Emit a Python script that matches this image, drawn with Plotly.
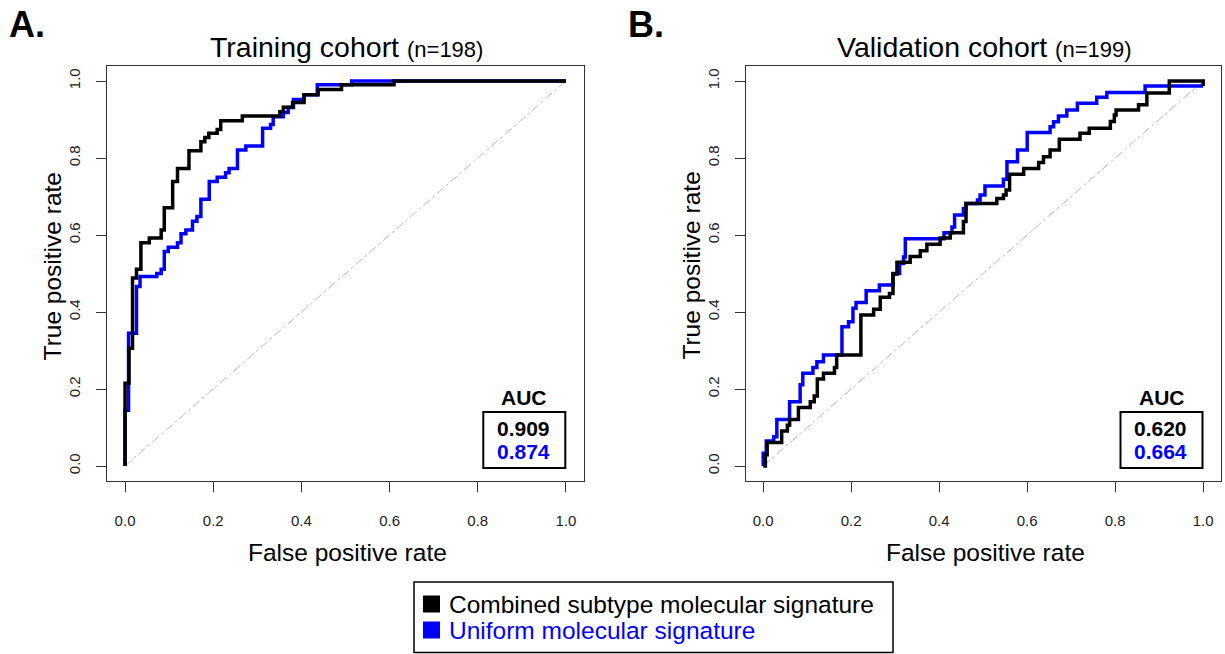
import plotly.graph_objects as go

W, H = 1225, 654
FONT = "Liberation Sans, Arial, Helvetica, sans-serif"
BLACK = "#000000"
BLUE = "#0000ff"

# ROC step knots (false positive rate, true positive rate); drawn with vertical-then-horizontal steps
train_comb_fpr = [0, 0.009, 0.017, 0.026, 0.036, 0.055, 0.082, 0.089, 0.108, 0.119, 0.145, 0.172, 0.181,
                  0.190, 0.209, 0.217, 0.266, 0.351, 0.359, 0.380, 0.406, 0.438, 0.491, 0.610, 1.0]
train_comb_tpr = [0, 0.215, 0.306, 0.488, 0.511, 0.580, 0.592, 0.613, 0.671, 0.739, 0.773, 0.819, 0.842,
                  0.853, 0.864, 0.874, 0.897, 0.909, 0.920, 0.932, 0.944, 0.964, 0.978, 0.990, 1.0]

train_unif_fpr = [0, 0.008, 0.026, 0.034, 0.072, 0.082, 0.089, 0.098, 0.119, 0.127, 0.138, 0.153, 0.163,
                  0.172, 0.191, 0.209, 0.228, 0.236, 0.255, 0.274, 0.312, 0.330, 0.336, 0.359, 0.370,
                  0.382, 0.406, 0.436, 0.514, 1.0]
train_unif_tpr = [0, 0.145, 0.345, 0.466, 0.492, 0.500, 0.511, 0.557, 0.568, 0.580, 0.603, 0.613, 0.636,
                  0.648, 0.693, 0.739, 0.750, 0.762, 0.773, 0.821, 0.831, 0.877, 0.887, 0.907, 0.918,
                  0.931, 0.952, 0.964, 0.990, 1.0]

valid_comb_fpr = [0, 0.005, 0.009, 0.042, 0.055, 0.060, 0.080, 0.107, 0.116, 0.123, 0.137, 0.162, 0.167,
                  0.222, 0.251, 0.266, 0.287, 0.295, 0.304, 0.334, 0.357, 0.372, 0.402, 0.425, 0.455,
                  0.461, 0.531, 0.546, 0.552, 0.560, 0.592, 0.626, 0.637, 0.652, 0.673, 0.720, 0.741,
                  0.789, 0.798, 0.802, 0.853, 0.872, 0.923, 1.0, 1.0]
valid_comb_tpr = [0, 0, 0.029, 0.061, 0.091, 0.106, 0.121, 0.152, 0.167, 0.182, 0.226, 0.241, 0.256,
                  0.288, 0.392, 0.407, 0.438, 0.448, 0.499, 0.529, 0.544, 0.559, 0.576, 0.592, 0.606,
                  0.635, 0.682, 0.695, 0.704, 0.717, 0.758, 0.773, 0.788, 0.803, 0.821, 0.849, 0.864,
                  0.877, 0.895, 0.912, 0.925, 0.938, 0.969, 1.0, 0.987]

valid_unif_fpr = [0, 0.007, 0.024, 0.031, 0.060, 0.084, 0.090, 0.113, 0.122, 0.137, 0.179, 0.194, 0.204,
                  0.211, 0.234, 0.264, 0.295, 0.310, 0.319, 0.323, 0.411, 0.429, 0.435, 0.455, 0.461,
                  0.487, 0.493, 0.504, 0.546, 0.554, 0.578, 0.600, 0.652, 0.660, 0.671, 0.690, 0.714,
                  0.758, 0.781, 0.868, 1.0]
valid_unif_tpr = [0, 0.033, 0.065, 0.076, 0.121, 0.167, 0.211, 0.241, 0.256, 0.271, 0.288, 0.362, 0.375,
                  0.410, 0.425, 0.455, 0.470, 0.500, 0.526, 0.543, 0.590, 0.606, 0.621, 0.652, 0.669,
                  0.682, 0.691, 0.704, 0.727, 0.745, 0.790, 0.821, 0.866, 0.881, 0.894, 0.909, 0.925,
                  0.942, 0.958, 0.970, 0.987]

panel_letters = ["A.", "B."]
panel_titles = ["Training cohort", "Validation cohort"]
panel_counts = ["(n=198)", "(n=199)"]
auc_comb = ["0.909", "0.620"]
auc_unif = ["0.874", "0.664"]
series_names = ["Combined subtype molecular signature", "Uniform molecular signature"]
axis_ticks = [0.0, 0.2, 0.4, 0.6, 0.8, 1.0]


def px(x):
    return x / W


def py(y):
    return 1 - y / H


# plot boxes in pixels: (left, right)
boxes = [(107.4, 583.6), (745.6, 1220.8)]
box_top, box_bottom = 65.6, 481.4

fig = go.Figure()

curves = [
    (train_comb_fpr, train_comb_tpr, train_unif_fpr, train_unif_tpr),
    (valid_comb_fpr, valid_comb_tpr, valid_unif_fpr, valid_unif_tpr),
]

for i, (cx, cy, ux, uy) in enumerate(curves):
    xa = "x" if i == 0 else "x2"
    ya = "y" if i == 0 else "y2"
    fig.add_trace(go.Scatter(x=[0, 1], y=[0, 1], mode="lines", xaxis=xa, yaxis=ya,
                             line=dict(color="#bdbdbd", width=1, dash="dashdot"),
                             showlegend=False, hoverinfo="skip"))
    fig.add_trace(go.Scatter(x=ux, y=uy, mode="lines", xaxis=xa, yaxis=ya, name=series_names[1],
                             line=dict(color=BLUE, width=3.5, shape="vh"), showlegend=False))
    fig.add_trace(go.Scatter(x=cx, y=cy, mode="lines", xaxis=xa, yaxis=ya, name=series_names[0],
                             line=dict(color=BLACK, width=3.5, shape="vh"), showlegend=False))

axis_common = dict(
    range=[-0.04, 1.04], tickvals=axis_ticks, tickformat=".1f",
    showline=True, mirror=True, linecolor="#333333", linewidth=1,
    ticks="outside", ticklen=10, tickwidth=1, tickcolor="#333333",
    showgrid=False, zeroline=False, fixedrange=True,
    tickfont=dict(family=FONT, size=15, color="#222222"),
)

ydom = [py(box_bottom), py(box_top)]
fig.update_layout(
    width=W, height=H, autosize=False,
    margin=dict(l=0, r=0, t=0, b=0),
    paper_bgcolor="white", plot_bgcolor="white",
    xaxis=dict(domain=[px(boxes[0][0]), px(boxes[0][1])], anchor="y", ticklabelstandoff=16, **axis_common),
    yaxis=dict(domain=ydom, anchor="x", tickangle=-90, ticklabelstandoff=10, **axis_common),
    xaxis2=dict(domain=[px(boxes[1][0]), px(boxes[1][1])], anchor="y2", ticklabelstandoff=16, **axis_common),
    yaxis2=dict(domain=ydom, anchor="x2", tickangle=-90, ticklabelstandoff=10, **axis_common),
)

annotations = []
shapes = []
letter_x = [27, 646]
for i, (left, right) in enumerate(boxes):
    cxp = (left + right) / 2
    # panel letter
    annotations.append(dict(x=px(letter_x[i]), y=py(25), xref="paper", yref="paper", text="<b>%s</b>" % panel_letters[i],
                            showarrow=False, xanchor="center", yanchor="middle",
                            font=dict(family=FONT, size=36, color=BLACK)))
    # title
    annotations.append(dict(x=px(cxp + 1), y=py(47), xref="paper", yref="paper",
                            text="%s <span style='font-size:22px'>%s</span>" % (panel_titles[i], panel_counts[i]),
                            showarrow=False, xanchor="center", yanchor="middle",
                            font=dict(family=FONT, size=28.5, color=BLACK)))
    # axis titles
    annotations.append(dict(x=px(cxp + 2), y=py(552), xref="paper", yref="paper", text="False positive rate",
                            showarrow=False, xanchor="center", yanchor="middle",
                            font=dict(family=FONT, size=24.5, color=BLACK)))
    annotations.append(dict(x=px(left - 54), y=py(266), xref="paper", yref="paper", text="True positive rate",
                            showarrow=False, xanchor="center", yanchor="middle", textangle=-90,
                            font=dict(family=FONT, size=24.5, color=BLACK)))
    # AUC box
    bx0, bx1 = right - 100.3, right - 18.3
    bcx = (bx0 + bx1) / 2
    annotations.append(dict(x=px(bcx), y=py(397), xref="paper", yref="paper", text="<b>AUC</b>",
                            showarrow=False, xanchor="center", yanchor="middle",
                            font=dict(family=FONT, size=21, color=BLACK)))
    annotations.append(dict(x=px(bcx - 1), y=py(428), xref="paper", yref="paper", text="<b>%s</b>" % auc_comb[i],
                            showarrow=False, xanchor="center", yanchor="middle",
                            font=dict(family=FONT, size=21, color=BLACK)))
    annotations.append(dict(x=px(bcx - 1), y=py(451), xref="paper", yref="paper", text="<b>%s</b>" % auc_unif[i],
                            showarrow=False, xanchor="center", yanchor="middle",
                            font=dict(family=FONT, size=21, color=BLUE)))
    shapes.append(dict(type="rect", xref="paper", yref="paper", x0=px(bx0), x1=px(bx1), y0=py(468), y1=py(412),
                       line=dict(color=BLACK, width=2), fillcolor="rgba(0,0,0,0)"))

# shared legend
shapes.append(dict(type="rect", xref="paper", yref="paper", x0=px(414), x1=px(893), y0=py(652.5), y1=py(582),
                   line=dict(color=BLACK, width=1.5), fillcolor="white"))
legend_colors = [BLACK, BLUE]
legend_y = [604, 630]
for name, col, yy in zip(series_names, legend_colors, legend_y):
    shapes.append(dict(type="rect", xref="paper", yref="paper", x0=px(423), x1=px(440), y0=py(yy + 8.5), y1=py(yy - 8.5),
                       line=dict(width=0), fillcolor=col))
    annotations.append(dict(x=px(447), y=py(yy), xref="paper", yref="paper", text=name,
                            showarrow=False, xanchor="left", yanchor="middle",
                            font=dict(family=FONT, size=24.5, color=col)))

fig.update_layout(annotations=annotations, shapes=shapes)
fig.write_html("out.html")
